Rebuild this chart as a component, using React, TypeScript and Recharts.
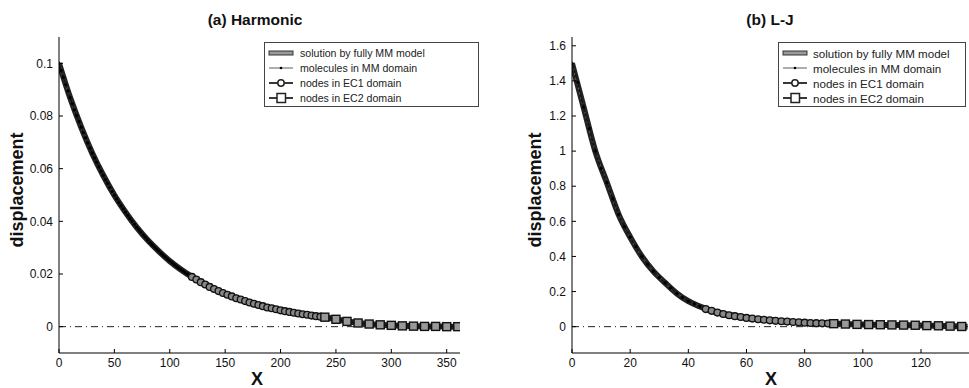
import React from "react";
import { LineChart, Line, XAxis, YAxis, ReferenceLine } from "recharts";

// ---- (a) Harmonic ----
const harmTicksX = [0, 50, 100, 150, 200, 250, 300, 350];
const harmTicksY = [0, 0.02, 0.04, 0.06, 0.08, 0.1];
// full MM solution, x = 0..360 every 10
const harmFull = [
  0.1, 0.087, 0.0758, 0.0659, 0.0574, 0.0499, 0.0435, 0.0378, 0.0329, 0.0287,
  0.0249, 0.0217, 0.0189, 0.0164, 0.0143, 0.0124, 0.0108, 0.0094, 0.0082, 0.0071,
  0.0062, 0.0054, 0.0047, 0.0041, 0.0036, 0.0028, 0.002, 0.0014, 0.001, 0.0007,
  0.0005, 0.0003, 0.0002, 0.0001, 0.0001, 0, 0,
];
// molecules in MM domain, x = 0..120 every 2
const harmMM = [
  0.1, 0.0973, 0.0946, 0.092, 0.0895, 0.087, 0.0847, 0.0823, 0.0801, 0.0779,
  0.0758, 0.0737, 0.0717, 0.0697, 0.0678, 0.0659, 0.0641, 0.0624, 0.0607, 0.059,
  0.0574, 0.0558, 0.0543, 0.0528, 0.0513, 0.0499, 0.0486, 0.0472, 0.0459, 0.0447,
  0.0435, 0.0423, 0.0411, 0.04, 0.0389, 0.0378, 0.0368, 0.0358, 0.0348, 0.0339,
  0.0329, 0.032, 0.0311, 0.0303, 0.0295, 0.0287, 0.0279, 0.0271, 0.0264, 0.0256,
  0.0249, 0.0243, 0.0236, 0.0229, 0.0223, 0.0217, 0.0211, 0.0205, 0.02, 0.0194,
  0.0189,
];
// nodes in EC1 domain, x = 120..240 every 4
const harmEC1 = [
  0.0189, 0.0179, 0.0169, 0.016, 0.0151, 0.0143, 0.0135, 0.0128, 0.0121, 0.0115,
  0.0108, 0.0103, 0.0097, 0.0092, 0.0087, 0.0082, 0.0078, 0.0073, 0.007, 0.0066,
  0.0062, 0.0059, 0.0056, 0.0053, 0.005, 0.0047, 0.0045, 0.0042, 0.004, 0.0038,
  0.0036,
];
// nodes in EC2 domain, x = 240..360 every 10
const harmEC2 = [0.0036, 0.0028, 0.002, 0.0014, 0.001, 0.0007, 0.0005, 0.0003, 0.0002, 0.0001, 0.0001, 0, 0];

// ---- (b) L-J ----
const ljTicksX = [0, 20, 40, 60, 80, 100, 120];
const ljTicksY = [0, 0.2, 0.4, 0.6, 0.8, 1, 1.2, 1.4, 1.6];
// full MM solution, x = 0..136 every 4
const ljFull = [
  1.5, 1.25, 1.0, 0.82, 0.64, 0.51, 0.4, 0.315, 0.25, 0.19, 0.145, 0.115, 0.09,
  0.072, 0.06, 0.05, 0.042, 0.036, 0.031, 0.027, 0.023, 0.02, 0.018, 0.016, 0.014,
  0.012, 0.011, 0.01, 0.009, 0.008, 0.007, 0.005, 0.004, 0.002, 0,
];
// molecules, x = 0..46 every 2
const ljMM = [
  1.5, 1.39, 1.25, 1.13, 1.0, 0.9, 0.82, 0.73, 0.64, 0.57, 0.51, 0.455, 0.4, 0.355,
  0.315, 0.28, 0.25, 0.22, 0.19, 0.165, 0.145, 0.13, 0.115, 0.1,
];
// EC1 nodes, x = 46..90 every 2
const ljEC1 = [
  0.1, 0.09, 0.08, 0.072, 0.065, 0.06, 0.055, 0.05, 0.046, 0.042, 0.039, 0.036,
  0.033, 0.031, 0.029, 0.027, 0.025, 0.023, 0.021, 0.02, 0.019, 0.018, 0.017,
];
// EC2 nodes, x = 90..134 every 4
const ljEC2 = [0.017, 0.015, 0.013, 0.012, 0.011, 0.01, 0.009, 0.008, 0.006, 0.005, 0.003, 0.001];

const legendNames = [
  "solution by fully MM model",
  "molecules in MM domain",
  "nodes in EC1 domain",
  "nodes in EC2 domain",
];

const FONT = "'Liberation Sans', Arial, sans-serif";

const pts = (start: number, step: number, ys: number[]) =>
  ys.map((y, i) => ({ x: start + i * step, y }));

const SquareDot = (props: any) => {
  const { cx, cy, index } = props;
  if (cx == null || cy == null) return <g key={index} />;
  return (
    <rect key={index} x={cx - 4} y={cy - 4} width={8} height={8} fill="#999" stroke="#111" strokeWidth={1.4} />
  );
};

const LegendBox = ({ left, top, width, fontSize, iconW }: { left: number; top: number; width: number; fontSize: number; iconW: number }) => (
  <div
    style={{
      position: "absolute",
      left,
      top,
      width,
      height: 65,
      border: "1px solid #444",
      background: "#fff",
      fontFamily: FONT,
      fontSize,
      color: "#222",
      boxSizing: "border-box",
    }}
  >
    {legendNames.map((name, i) => (
      <div key={i} style={{ position: "absolute", left: 2, top: 3 + i * 15, height: 14, display: "flex", alignItems: "center" }}>
        <svg width={iconW} height={12}>
          {i === 0 && <rect x={2} y={4} width={24} height={4} fill="#999" stroke="#333" strokeWidth={1} />}
          {i === 1 && (
            <g>
              <line x1={2} x2={26} y1={6} y2={6} stroke="#333" strokeWidth={0.8} />
              <circle cx={14} cy={6} r={1.3} fill="#000" />
            </g>
          )}
          {i === 2 && (
            <g>
              <line x1={2} x2={26} y1={6} y2={6} stroke="#222" strokeWidth={1.8} />
              <circle cx={14} cy={6} r={3.2} fill="#fff" stroke="#222" strokeWidth={1.5} />
            </g>
          )}
          {i === 3 && (
            <g>
              <line x1={2} x2={26} y1={6} y2={6} stroke="#222" strokeWidth={1.8} />
              <rect x={10} y={1.5} width={8.5} height={9} fill="#fff" stroke="#222" strokeWidth={1.5} />
            </g>
          )}
        </svg>
        <span style={{ marginLeft: 3, whiteSpace: "nowrap" }}>{name}</span>
      </div>
    ))}
  </div>
);

type PanelProps = {
  left: number;
  width: number;
  marginLeft: number;
  marginRight: number;
  title: string;
  titleX: number;
  yLabelX: number;
  xLabelX: number;
  xDomain: [number, number];
  xTicks: number[];
  yDomain: [number, number];
  yTicks: number[];
  full: { x: number; y: number }[];
  mm: { x: number; y: number }[];
  ec1: { x: number; y: number }[];
  ec2: { x: number; y: number }[];
  legendLeft: number;
  legendWidth: number;
  legendFont: number;
  legendIcon: number;
};

const Panel = (p: PanelProps) => {
  const tickStyle = { fill: "#111", fontSize: 12, fontFamily: FONT };
  return (
    <div style={{ position: "absolute", left: p.left, top: 0, width: p.width, height: 388 }}>
      <LineChart
        width={p.width}
        height={388}
        margin={{ top: 37, right: p.marginRight, bottom: 15, left: p.marginLeft }}
      >
        <XAxis
          type="number"
          dataKey="x"
          domain={p.xDomain}
          ticks={p.xTicks}
          allowDataOverflow
          height={20}
          tickSize={-4}
          tickMargin={9}
          axisLine={{ stroke: "#000" }}
          tickLine={{ stroke: "#000" }}
          tick={tickStyle}
        />
        <YAxis
          type="number"
          dataKey="y"
          domain={p.yDomain}
          ticks={p.yTicks}
          allowDataOverflow
          width={40}
          tickSize={-4}
          tickMargin={10}
          axisLine={{ stroke: "#000" }}
          tickLine={{ stroke: "#000" }}
          tick={tickStyle}
        />
        <ReferenceLine y={0} stroke="#222" strokeWidth={1} strokeDasharray="7 4 1 4" />
        <Line
          data={p.full}
          dataKey="y"
          type="monotone"
          stroke="#222"
          strokeWidth={6}
          dot={false}
          activeDot={false}
          isAnimationActive={false}
        />
        <Line
          data={p.full}
          dataKey="y"
          type="monotone"
          stroke="#777"
          strokeWidth={1.4}
          strokeDasharray="2 3"
          dot={false}
          activeDot={false}
          isAnimationActive={false}
        />
        <Line
          data={p.mm}
          dataKey="y"
          type="monotone"
          stroke="#111"
          strokeWidth={1}
          dot={{ r: 1.2, fill: "#000", stroke: "#000" }}
          activeDot={false}
          isAnimationActive={false}
        />
        <Line
          data={p.ec1}
          dataKey="y"
          type="monotone"
          stroke="#111"
          strokeWidth={1.6}
          dot={{ r: 3.4, fill: "#888", stroke: "#111", strokeWidth: 1.3 }}
          activeDot={false}
          isAnimationActive={false}
        />
        <Line
          data={p.ec2}
          dataKey="y"
          type="monotone"
          stroke="#111"
          strokeWidth={1.6}
          dot={SquareDot}
          activeDot={false}
          isAnimationActive={false}
        />
      </LineChart>
      <div
        style={{
          position: "absolute",
          left: p.titleX - 100,
          width: 200,
          top: 11,
          textAlign: "center",
          fontFamily: FONT,
          fontWeight: "bold",
          fontSize: 15.5,
          color: "#111",
        }}
      >
        {p.title}
      </div>
      <div
        style={{
          position: "absolute",
          left: p.yLabelX - 70,
          top: 190 - 11,
          width: 140,
          height: 22,
          lineHeight: "22px",
          textAlign: "center",
          transform: "rotate(-90deg)",
          fontFamily: FONT,
          fontWeight: "bold",
          fontSize: 18,
          color: "#111",
        }}
      >
        displacement
      </div>
      <div
        style={{
          position: "absolute",
          left: p.xLabelX - 20,
          width: 40,
          top: 369,
          textAlign: "center",
          fontFamily: FONT,
          fontWeight: "bold",
          fontSize: 18,
          color: "#111",
        }}
      >
        X
      </div>
      <LegendBox left={p.legendLeft} top={42} width={p.legendWidth} fontSize={p.legendFont} iconW={p.legendIcon} />
    </div>
  );
};

export default function App() {
  return (
    <div style={{ position: "absolute", left: 0, top: 0, width: 969, height: 388, background: "#fff", overflow: "hidden" }}>
      <Panel
        left={0}
        width={480}
        marginLeft={19}
        marginRight={20}
        title="(a) Harmonic"
        titleX={255}
        yLabelX={17}
        xLabelX={257}
        xDomain={[0, 362]}
        xTicks={harmTicksX}
        yDomain={[-0.01, 0.11]}
        yTicks={harmTicksY}
        full={pts(0, 10, harmFull)}
        mm={pts(0, 2, harmMM)}
        ec1={pts(120, 4, harmEC1)}
        ec2={pts(240, 10, harmEC2)}
        legendLeft={264}
        legendWidth={215}
        legendFont={10.6}
        legendIcon={30}
      />
      <Panel
        left={480}
        width={489}
        marginLeft={52}
        marginRight={0}
        title="(b) L-J"
        titleX={290}
        yLabelX={55}
        xLabelX={291}
        xDomain={[0, 136.5]}
        xTicks={ljTicksX}
        yDomain={[-0.15, 1.65]}
        yTicks={ljTicksY}
        full={pts(0, 4, ljFull)}
        mm={pts(0, 2, ljMM)}
        ec1={pts(46, 2, ljEC1)}
        ec2={pts(90, 4, ljEC2)}
        legendLeft={298}
        legendWidth={188}
        legendFont={11.6}
        legendIcon={29}
      />
    </div>
  );
}
